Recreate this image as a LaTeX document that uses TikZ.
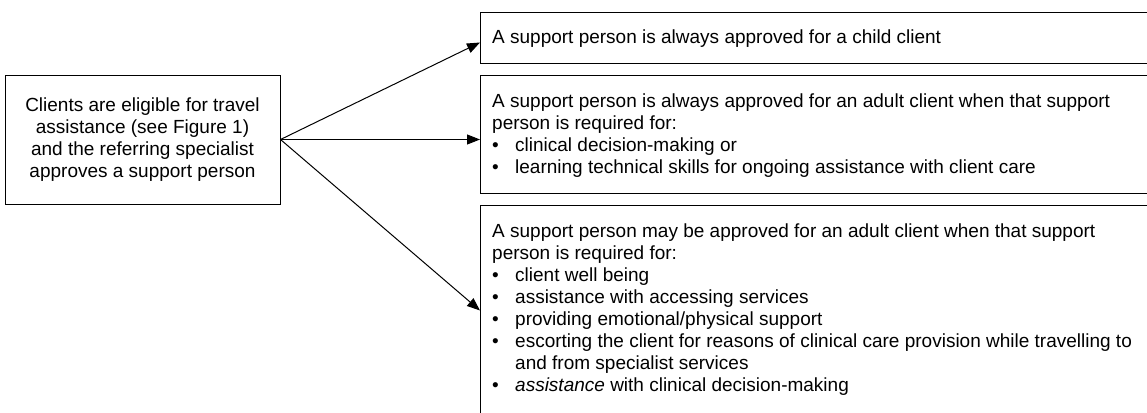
\documentclass[tikz,border=0pt]{standalone}
\usepackage{fontspec}
\setmainfont{Liberation Sans}
\usetikzlibrary{arrows.meta, positioning}

\tikzset{
    box/.style={draw, line width=1pt, inner sep=0pt},
    opt/.style={box, anchor=north west, minimum width=720pt},
    txt/.style={inner sep=0pt, align=left, font=\fontsize{19}{22}\selectfont},
    link/.style={line width=1pt, -{Triangle[length=13pt, width=10pt]}}
}
\newcommand{\itm}{\makebox[23pt][l]{\textbullet}}

\begin{document}
\begin{tikzpicture}[x=1pt, y=-1pt]
            \clip (0,0) rectangle (1147,412);
            % source box
            \node[box, minimum width=275pt, minimum height=129pt, align=center,
                font=\fontsize{19}{22}\selectfont] (src) at (142.5,139.5)
                {Clients are eligible for travel\\assistance (see Figure 1)\\and the referring specialist\\approves a support person};
            % option boxes
            \node[opt, minimum height=51pt] (child) at (480,12) {};
            \node[opt, minimum height=118pt] (adult) at (480,75) {};
            \node[opt, minimum height=210pt] (maybe) at (480,205) {};
            \node[txt, anchor=west] (childtxt) at ([xshift=12pt, yshift=-1pt]child.west)
                {A support person is always approved for a child client};
            \node[txt, below right=19pt and 12pt of adult.north west] (adulttxt)
                {A support person is always approved for an adult client when that support\\
                 person is required for:\\
                 \itm clinical decision-making or\\
                 \itm learning technical skills for ongoing assistance with client care};
            \node[txt, below right=19pt and 12pt of maybe.north west] (maybetxt)
                {A support person may be approved for an adult client when that support\\
                 person is required for:\\
                 \itm client well being\\
                 \itm assistance with accessing services\\
                 \itm providing emotional/physical support\\
                 \itm escorting the client for reasons of clinical care provision while travelling to\\
                 \hspace*{23pt}and from specialist services\\
                 \itm \textit{assistance} with clinical decision-making};
            % arrows
            \draw[link] (src.east) -- ([yshift=-4.5pt]child.west);
            \draw[link] (src.east) -- (adult.west |- src.east);
            \draw[link] (src.east) -- (maybe.west);
        \end{tikzpicture}
\end{document}
